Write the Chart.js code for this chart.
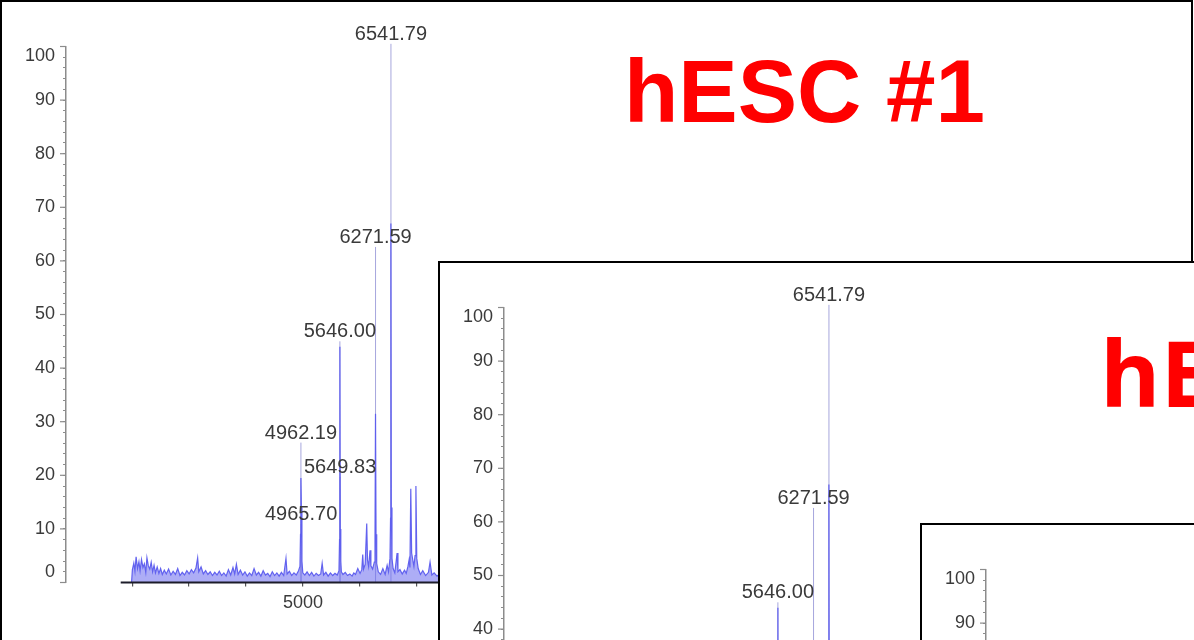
<!DOCTYPE html>
<html>
<head>
<meta charset="utf-8">
<script src="https://cdn.jsdelivr.net/npm/chart.js@4/dist/chart.umd.min.js"></script>
<style>
  html, body { margin: 0; padding: 0; width: 1194px; height: 640px; overflow: hidden; background: #fff; }
  .panel { position: absolute; box-sizing: border-box; width: 1193px; height: 800px; border: 2px solid #000; background: #fff; overflow: hidden; }
  .panel canvas { position: absolute; left: 0; top: 0; }
  .title { position: absolute; color: #ff0000; font-weight: bold; line-height: 1; white-space: nowrap; }
  .t1 { font-family: "Liberation Sans", Arial, sans-serif; font-size: 89px; left: 622px; top: 45px; }
  .t2 { font-family: "Open Sans", sans-serif; font-size: 92px; left: 660px; top: 63px; }
</style>
</head>
<body>
<div class="panel" style="left:0;top:0"><canvas id="c1" width="1189" height="796"></canvas><div class="title t1">hESC #1</div></div>
<div class="panel" style="left:438px;top:261px"><canvas id="c2" width="1189" height="796"></canvas><div class="title t2">hESC #2</div></div>
<div class="panel" style="left:920px;top:523px"><canvas id="c3" width="1189" height="796"></canvas><div class="title t2">hESC #3</div></div>
<script>
// MALDI-TOF profile: m/z positions and relative intensity (%)
const specMass = [
  1990, 2005, 2030, 2050, 2070, 2095, 2120, 2140, 2165, 2190,
  2215, 2240, 2260, 2285, 2310, 2335, 2360, 2385, 2410, 2440,
  2470, 2500, 2530, 2565, 2600, 2640, 2680, 2720, 2760, 2800,
  2840, 2880, 2920, 2960, 3000, 3040, 3080, 3120, 3150, 3170,
  3210, 3250, 3290, 3330, 3370, 3410, 3450, 3490, 3530, 3570,
  3610, 3650, 3690, 3730, 3770, 3800, 3830, 3860, 3900, 3940,
  3980, 4020, 4060, 4100, 4140, 4180, 4220, 4260, 4300, 4340,
  4380, 4420, 4460, 4500, 4540, 4580, 4620, 4660, 4700, 4720,
  4760, 4800, 4840, 4880, 4920, 4945, 4955, 4962, 4970, 4980,
  4995, 5030, 5070, 5110, 5150, 5190, 5230, 5270, 5310, 5335,
  5360, 5400, 5440, 5480, 5520, 5560, 5600, 5630, 5640, 5646,
  5652, 5662, 5672, 5700, 5740, 5780, 5820, 5860, 5890, 5920,
  5960, 6000, 6030, 6047, 6060, 6090, 6117, 6130, 6150, 6175,
  6190, 6220, 6250, 6262, 6271, 6280, 6292, 6320, 6360, 6400,
  6440, 6475, 6500, 6525, 6535, 6541, 6548, 6560, 6580, 6610,
  6650, 6665, 6700, 6740, 6780, 6810, 6840, 6860, 6875, 6890,
  6905, 6925, 6945, 6965, 6980, 6995, 7020, 7060, 7100, 7150,
  7200, 7228, 7260, 7300, 7350, 7400, 7450, 7500, 7550
];
const specIntensity = [
  0.0, 2.4, 3.6, 2.1, 4.8, 2.6, 3.9, 2.2, 4.3, 2.8,
  3.5, 1.9, 4.6, 3.1, 2.5, 3.8, 2.0, 3.2, 1.8, 2.9,
  1.7, 2.6, 1.5, 2.3, 1.6, 2.5, 1.4, 2.1, 1.5, 2.6,
  1.3, 1.9, 1.4, 2.2, 1.6, 2.4, 1.8, 2.7, 4.6, 2.0,
  2.9, 1.6, 2.2, 1.5, 2.0, 1.3, 1.9, 1.4, 2.1, 1.3,
  1.8, 1.2, 2.4, 1.4, 2.8, 1.6, 3.4, 1.5, 2.3, 1.4,
  2.0, 1.2, 1.8, 1.3, 2.6, 1.4, 1.9, 1.2, 2.2, 1.4,
  1.7, 1.1, 2.0, 1.3, 1.8, 1.2, 1.9, 1.3, 4.5, 1.6,
  2.1, 1.3, 1.8, 1.4, 2.2, 3.0, 9.0, 19.5, 14.0, 4.0,
  1.8, 1.4, 2.0, 1.3, 1.9, 1.2, 1.7, 1.3, 1.6, 3.6,
  1.4, 1.9, 1.2, 1.8, 1.3, 1.7, 1.4, 2.2, 8.0, 44.0,
  10.0, 4.0, 2.0, 1.5, 1.9, 1.3, 1.6, 1.2, 1.8, 1.5,
  2.6, 1.7, 2.4, 5.2, 2.5, 3.4, 11.0, 4.2, 3.0, 6.0,
  3.1, 2.5, 3.8, 8.0, 31.5, 9.0, 3.5, 2.0, 1.5, 2.6,
  1.5, 3.2, 2.0, 4.5, 12.0, 67.0, 14.0, 4.5, 2.6, 1.8,
  5.5, 2.0, 2.4, 1.6, 2.3, 1.7, 3.0, 4.2, 2.8, 17.5,
  5.5, 4.2, 3.0, 5.0, 18.0, 4.5, 2.6, 1.5, 2.2, 1.3,
  1.9, 3.8, 1.4, 1.8, 1.2, 1.6, 1.1, 1.5, 0.0
];

// Annotated centroid peaks (m/z) and their intensities (%)
const peakMass = [4962.19, 4965.70, 5646.00, 5649.83, 6271.59, 6541.79];
const peakIntensity = [26.1, 10.9, 45.0, 19.7, 62.6, 100.5];

// m/z tick positions; only multiples of 5000 carry a label
const massTicks = [2000, 3000, 4000, 5000, 6000, 7000, 8000, 9000, 10000, 11000, 12000];
// Intensity labels every 10 %
const intensityLabels = [0, 10, 20, 30, 40, 50, 60, 70, 80, 90, 100];

// m/z extent of the drawn x-axis line and of the scale
const axisLineMass = [1800, 12000];
const massRange = [840, 12000];

const spectrumPoints = specMass.map((m, i) => ({ x: m, y: specIntensity[i] }));
const stickPoints = peakMass.flatMap((m, i) => [
  { x: m, y: 0 }, { x: m, y: peakIntensity[i] }, { x: m, y: null }
]);
const axisLinePoints = axisLineMass.map(m => ({ x: m, y: 0 }));

const TEXT = '#3a3a3a';
const AXIS = '#8c8c8c';

// Major y ticks, clamped y labels and peak annotations
const spectrumDecor = {
  id: 'spectrumDecor',
  afterDraw(chart) {
    const ctx = chart.ctx, area = chart.chartArea;
    const xs = chart.scales.x, ys = chart.scales.y;
    ctx.save();
    ctx.strokeStyle = AXIS;
    ctx.lineWidth = 1.2;
    ctx.fillStyle = TEXT;
    ctx.font = '18px "Liberation Sans", Arial, sans-serif';
    ctx.textAlign = 'right';
    ctx.textBaseline = 'middle';
    intensityLabels.forEach(v => {
      const py = ys.getPixelForValue(v);
      ctx.beginPath();
      ctx.moveTo(area.left - 6, py);
      ctx.lineTo(area.left, py);
      ctx.stroke();
      const ly = Math.min(Math.max(py, area.top + 10), area.bottom - 10.5);
      ctx.fillText(String(v), area.left - 11, ly);
    });
    ctx.font = '20px "Liberation Sans", Arial, sans-serif';
    ctx.textAlign = 'center';
    ctx.textBaseline = 'alphabetic';
    peakMass.forEach((m, i) => {
      ctx.fillText(m.toFixed(2), xs.getPixelForValue(m), ys.getPixelForValue(peakIntensity[i]) - 4);
    });
    ctx.restore();
  }
};

function buildSpectrum(id) {
  return new Chart(document.getElementById(id), {
    type: 'line',
    data: {
      datasets: [
        { label: 'axis', data: axisLinePoints, borderColor: '#1c1c2a', borderWidth: 2,
          pointRadius: 0, order: 0, clip: false },
        { label: 'profile', data: spectrumPoints, borderColor: 'rgba(92,92,238,0.95)', borderWidth: 1.2,
          backgroundColor: 'rgba(105,105,238,0.55)', fill: 'origin', pointRadius: 0, tension: 0,
          order: 1, clip: false },
        { label: 'centroids', data: stickPoints, borderColor: 'rgba(150,150,215,0.85)', borderWidth: 1,
          pointRadius: 0, spanGaps: false, order: 2, clip: false }
      ]
    },
    options: {
      responsive: false,
      animation: false,
      events: [],
      layout: { padding: { left: 0, top: 44.5, right: 489, bottom: 185.5 } },
      plugins: { legend: { display: false }, tooltip: { enabled: false }, title: { display: false } },
      scales: {
        x: {
          type: 'linear', min: massRange[0], max: massRange[1],
          afterFit(s) { s.height = 30; },
          afterBuildTicks(s) { s.ticks = massTicks.map(v => ({ value: v })); },
          border: { display: false },
          grid: { drawOnChartArea: false, drawTicks: true, tickLength: 4, lineWidth: 1.2, tickColor: '#555' },
          ticks: {
            autoSkip: false, maxRotation: 0, padding: 6, color: TEXT,
            font: { family: '"Liberation Sans", Arial, sans-serif', size: 18 },
            callback: v => (v % 5000 === 0 ? String(v) : '')
          }
        },
        y: {
          min: 0, max: 100,
          afterFit(s) { s.width = 64; },
          border: { color: AXIS, width: 1.5 },
          grid: { drawOnChartArea: false, tickLength: 3, tickColor: AXIS },
          ticks: { display: false, stepSize: 2 }
        }
      }
    },
    plugins: [spectrumDecor]
  });
}

['c1', 'c2', 'c3'].forEach(buildSpectrum);
</script>
</body>
</html>
